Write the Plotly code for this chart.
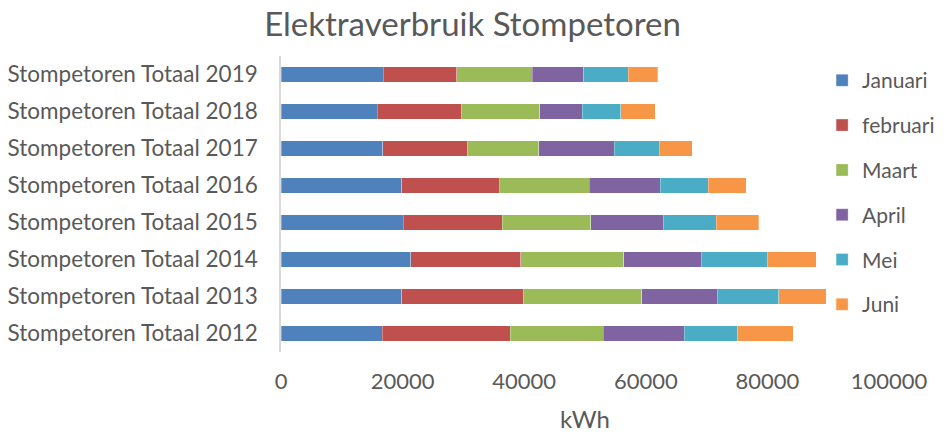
import plotly.graph_objects as go

categories = ["Stompetoren Totaal 2012", "Stompetoren Totaal 2013", "Stompetoren Totaal 2014",
              "Stompetoren Totaal 2015", "Stompetoren Totaal 2016", "Stompetoren Totaal 2017",
              "Stompetoren Totaal 2018", "Stompetoren Totaal 2019"]

januari = [16650, 19900, 21300, 20100, 19850, 16700, 15800, 16800]
februari = [21050, 19950, 18100, 16250, 16100, 13900, 13850, 12100]
maart = [15300, 19500, 17000, 14600, 14750, 11800, 12900, 12400]
april = [13300, 12400, 12700, 11900, 11650, 12370, 7000, 8500]
mei = [8850, 10150, 10850, 8700, 7900, 7450, 6300, 7300]
juni = [9100, 7800, 8050, 7000, 6250, 5380, 5700, 4900]

series_names = ["Januari", "februari", "Maart", "April", "Mei", "Juni"]
series_values = [januari, februari, maart, april, mei, juni]
colors = ["#4F81BD", "#C0504D", "#9BBB59", "#8064A2", "#4BACC6", "#F79646"]

x_ticks = [0, 20000, 40000, 60000, 80000, 100000]

font_family = "Lato, 'Open Sans', sans-serif"
grey = "#595959"

fig = go.Figure()
for i, (name, vals, col) in enumerate(zip(series_names, series_values, colors)):
    fig.add_trace(go.Bar(
        y=categories, x=vals, name=name, orientation="h",
        marker=dict(color=col, line=dict(color="rgba(255,255,255,0.6)", width=0.5)),
        legendgroup="g%d" % i,
    ))

fig.update_layout(
    barmode="stack",
    bargap=0.58,
    width=945, height=433,
    paper_bgcolor="white", plot_bgcolor="white",
    margin=dict(l=281, r=56, t=55.5, b=80.5, autoexpand=False),
    title=dict(text="Elektraverbruik Stompetoren", x=0.5, xanchor="center",
               y=0.944, yanchor="middle",
               font=dict(family=font_family, size=33, color=grey)),
    font=dict(family=font_family, size=22, color=grey),
    xaxis=dict(range=[0, 100000], tickvals=x_ticks, ticktext=[str(v) for v in x_ticks],
               showgrid=False, zeroline=False, showline=False, automargin=False,
               ticklabelstandoff=14,
               tickfont=dict(size=22, color=grey),
               title=dict(text="kWh", font=dict(size=24, color=grey), standoff=21)),
    yaxis=dict(showgrid=False, zeroline=False, showline=True, linecolor="#D9D9D9", linewidth=1.5,
               automargin=False, ticklabelstandoff=17,
               tickfont=dict(size=22.5, color=grey)),
    legend=dict(x=0.89, xanchor="left", y=0.986, yanchor="top",
                traceorder="grouped", tracegroupgap=14.5,
                font=dict(size=21, color=grey), bgcolor="rgba(0,0,0,0)"),
)

# remove the default 8px page margin so the figure fills the window exactly
fig.write_html("out.html", config={"displayModeBar": False},
               post_script="document.body.style.margin='0';")
